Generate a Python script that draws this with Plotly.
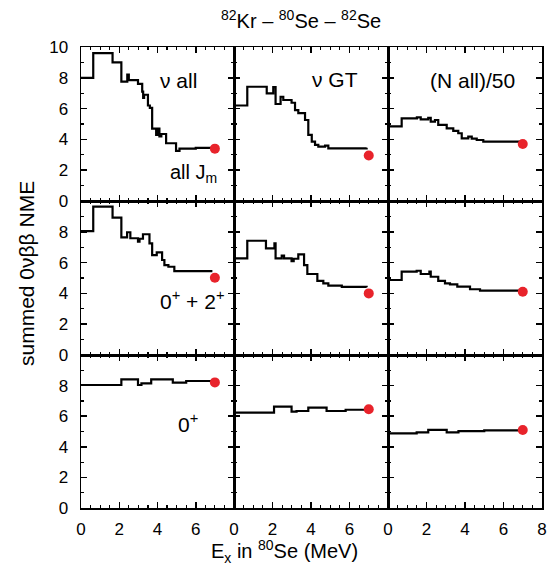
import plotly.graph_objects as go

# ---- data (step curves: x = excitation energy in 80Se [MeV], y = summed NME) ----
# Row 1: all J_m
x_nu_all_allJ = [0, 0.64, 1.65, 2.11, 2.42, 2.5, 2.98, 3.2, 3.25, 3.3, 3.5, 3.6, 3.72, 3.93, 4.0, 4.1, 4.2, 4.45, 4.97, 5.15, 6.0, 6.87]
y_nu_all_allJ = [8.0, 9.6, 9.0, 7.75, 8.2, 7.85, 7.6, 7.1, 6.7, 6.9, 6.2, 6.05, 4.7, 4.3, 4.7, 4.2, 4.35, 3.75, 3.25, 3.4, 3.45, 3.45]
x_nu_gt_allJ = [0, 0.69, 1.70, 2.04, 2.16, 2.42, 2.56, 2.99, 3.17, 3.34, 3.69, 3.86, 4.04, 4.21, 4.38, 4.73, 4.90, 6.89]
y_nu_gt_allJ = [6.2, 7.42, 6.99, 7.4, 6.3, 6.77, 6.56, 6.38, 5.9, 5.7, 5.26, 4.29, 3.86, 3.64, 3.53, 3.6, 3.42, 3.45]
x_n_all_allJ = [0, 0.71, 1.5, 1.70, 2.09, 2.22, 2.44, 2.61, 3.05, 3.39, 3.65, 3.83, 4.17, 4.35, 4.61, 4.95, 6.86]
y_n_all_allJ = [4.85, 5.37, 5.43, 5.3, 5.4, 5.15, 5.26, 4.94, 4.72, 4.55, 4.40, 4.07, 4.18, 4.05, 3.96, 3.85, 3.85]
# Row 2: 0+ + 2+
x_nu_all_02 = [0, 0.64, 1.65, 2.11, 2.41, 2.58, 2.98, 3.06, 3.24, 3.58, 3.72, 3.96, 4.24, 4.36, 4.57, 4.88, 6.87]
y_nu_all_02 = [8.05, 9.63, 8.92, 7.64, 7.97, 7.58, 7.36, 7.55, 7.84, 7.25, 6.49, 6.67, 6.17, 5.84, 5.73, 5.45, 5.45]
x_nu_gt_02 = [0, 0.69, 1.66, 2.10, 2.16, 2.48, 2.60, 2.99, 3.10, 3.34, 3.64, 3.81, 4.33, 4.64, 4.90, 5.6, 6.89]
y_nu_gt_02 = [6.28, 7.42, 6.93, 7.25, 6.28, 6.45, 6.28, 6.1, 6.25, 6.54, 5.84, 5.26, 4.81, 4.65, 4.50, 4.42, 4.40]
x_n_all_02 = [0, 0.71, 1.49, 1.70, 2.15, 2.22, 2.61, 2.96, 3.22, 3.60, 4.26, 4.78, 6.86]
y_n_all_02 = [4.87, 5.41, 5.47, 5.26, 5.41, 5.08, 4.81, 4.65, 4.59, 4.44, 4.27, 4.18, 4.18]
# Row 3: 0+
x_nu_all_0 = [0, 2.11, 2.98, 3.16, 3.67, 4.8, 5.5, 6.87]
y_nu_all_0 = [8.04, 8.41, 8.04, 8.15, 8.41, 8.19, 8.3, 8.37]
x_nu_gt_0 = [0, 2.08, 2.99, 3.25, 3.86, 4.81, 5.8, 6.89]
y_nu_gt_0 = [6.23, 6.62, 6.30, 6.34, 6.56, 6.34, 6.42, 6.45]
x_n_all_0 = [0, 1.49, 2.09, 3.05, 3.66, 5.0, 6.86]
y_n_all_0 = [4.88, 4.94, 5.1, 4.94, 5.03, 5.08, 5.1]

# red dots (total values)
dot_x = [7.0, 7.0, 7.0, 7.0, 7.0, 7.0, 7.0, 7.0, 7.0]
dot_y = [3.4, 2.95, 3.7, 5.02, 4.0, 4.11, 8.21, 6.45, 5.1]

curves = [
    (x_nu_all_allJ, y_nu_all_allJ), (x_nu_gt_allJ, y_nu_gt_allJ), (x_n_all_allJ, y_n_all_allJ),
    (x_nu_all_02, y_nu_all_02), (x_nu_gt_02, y_nu_gt_02), (x_n_all_02, y_n_all_02),
    (x_nu_all_0, y_nu_all_0), (x_nu_gt_0, y_nu_gt_0), (x_n_all_0, y_n_all_0),
]

x_ticks_major = [0, 2, 4, 6, 8]
y_ticks_major = [0, 2, 4, 6, 8, 10]

W, H = 551, 571
FONT = "Liberation Sans, Arial, Helvetica, sans-serif"
col_px = [(81, 234), (234, 388), (388, 542)]
row_px = [(47, 201), (201, 355), (355, 508)]

def PX(px):
    return px / W

def PY(py):
    return 1 - py / H

fig = go.Figure()
layout = dict(
    width=W, height=H, margin=dict(l=0, r=0, t=0, b=0, autoexpand=False),
    paper_bgcolor="white", plot_bgcolor="white", showlegend=False,
    font=dict(family=FONT, size=17, color="black"),
)

for k, (cx, cy) in enumerate(curves):
    r, c = divmod(k, 3)
    n = k + 1
    xa = "x" if n == 1 else f"x{n}"
    ya = "y" if n == 1 else f"y{n}"
    fig.add_trace(go.Scatter(x=cx, y=cy, mode="lines", line=dict(color="black", width=2.2, shape="hv"),
                             xaxis=xa, yaxis=ya, hoverinfo="skip"))
    fig.add_trace(go.Scatter(x=[dot_x[k]], y=[dot_y[k]], mode="markers",
                             marker=dict(color="#e8232b", size=10, line=dict(width=0)),
                             xaxis=xa, yaxis=ya, hoverinfo="skip"))
    x0, x1 = col_px[c]
    y0, y1 = row_px[r]
    xalias = {} if c == 2 else {"8": " "}
    yalias = {} if r == 0 else {"10": " "}
    layout["xaxis" if n == 1 else f"xaxis{n}"] = dict(
        domain=[PX(x0), PX(x1)], anchor=ya, range=[0, 8], automargin=False,
        tickvals=x_ticks_major, ticks="inside", ticklen=6, tickwidth=1.5, tickcolor="black",
        minor=dict(dtick=0.5, tick0=0, ticks="inside", ticklen=3, tickwidth=1.2, tickcolor="black"),
        showticklabels=(r == 2), labelalias=xalias, ticklabelstandoff=5,
        tickfont=dict(family=FONT, size=17, color="black"),
        showline=True, linecolor="black", linewidth=1.5, mirror="allticks",
        showgrid=False, zeroline=False, fixedrange=True,
    )
    layout["yaxis" if n == 1 else f"yaxis{n}"] = dict(
        domain=[PY(y1), PY(y0)], anchor=xa, range=[0, 10], automargin=False,
        tickvals=y_ticks_major, ticks="inside", ticklen=6, tickwidth=1.5, tickcolor="black",
        minor=dict(dtick=1, tick0=0, ticks="inside", ticklen=3, tickwidth=1.2, tickcolor="black"),
        showticklabels=(c == 0), labelalias=yalias, ticklabelstandoff=8,
        tickfont=dict(family=FONT, size=17, color="black"),
        showline=True, linecolor="black", linewidth=1.5, mirror="allticks",
        showgrid=False, zeroline=False, fixedrange=True,
    )

ann = []
def add_text(text, px, py, size=18, angle=0, xanchor="center"):
    ann.append(dict(text=text, x=PX(px), y=PY(py), xref="paper", yref="paper", showarrow=False,
                    xanchor=xanchor, yanchor="middle", textangle=angle,
                    font=dict(family=FONT, size=size, color="black")))

add_text("<sup>82</sup>Kr – <sup>80</sup>Se – <sup>82</sup>Se", 301, 19, size=20)
add_text("ν all", 178, 80, size=21)
add_text("ν GT", 335, 79, size=21)
add_text("(N all)/50", 472, 80, size=21)
add_text("all J<sub>m</sub>", 193, 174, size=20)
add_text("0<sup>+</sup> + 2<sup>+</sup>", 192, 300, size=21)
add_text("0<sup>+</sup>", 188, 423, size=21)
add_text("summed 0νββ NME", 26, 274, size=21, angle=-90)
add_text("E<sub>x</sub> in <sup>80</sup>Se (MeV)", 284, 551, size=20)
layout["annotations"] = ann

fig.update_layout(**layout)
fig.write_html("out.html", config={"displayModeBar": False, "staticPlot": True},
               post_script="document.body.style.margin='0px';")
